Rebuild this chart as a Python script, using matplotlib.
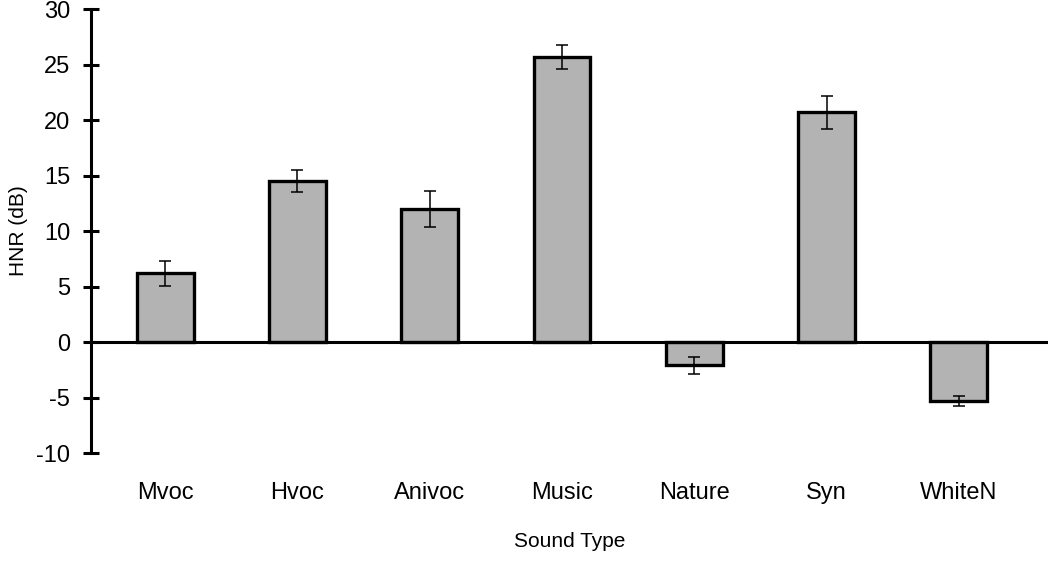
import matplotlib
matplotlib.use("Agg")
import matplotlib.pyplot as plt

plt.rcParams["font.family"] = ["Liberation Sans", "DejaVu Sans"]
plt.rcParams["axes.unicode_minus"] = False

categories = ["Mvoc", "Hvoc", "Anivoc", "Music", "Nature", "Syn", "WhiteN"]
hnr = [6.2, 14.5, 12.0, 25.7, -2.1, 20.7, -5.3]
err = [1.15, 1.0, 1.65, 1.1, 0.8, 1.5, 0.45]
yticks = [-10, -5, 0, 5, 10, 15, 20, 25, 30]

fig = plt.figure(figsize=(10.5, 5.63), dpi=100)
ax = fig.add_axes([0.0867, 0.195, 0.911, 0.789])

x = range(len(categories))
ax.bar(x, hnr, width=0.43, color="#b3b3b3", edgecolor="black", linewidth=2.4, zorder=2)
ax.errorbar(x, hnr, yerr=err, fmt="none", ecolor="black", elinewidth=1.1,
            capsize=4, capthick=1.1, zorder=3)
ax.axhline(0, color="black", linewidth=2.2, zorder=4)

ax.set_xlim(-0.56, 6.67)
ax.set_ylim(-10, 30)
ax.set_yticks(yticks)
ax.set_xticks(list(x))
ax.set_xticklabels(categories, fontsize=17)
ax.tick_params(axis="x", length=0, pad=21)
ax.tick_params(axis="y", direction="inout", length=12, width=2.2, labelsize=17, pad=9)

for side in ["top", "right", "bottom"]:
    ax.spines[side].set_visible(False)
ax.spines["left"].set_linewidth(2.2)

ax.set_ylabel("HNR (dB)", fontsize=15, labelpad=6)
ax.set_xlabel("Sound Type", fontsize=15, labelpad=20)

fig.savefig("out.png", dpi=100)
